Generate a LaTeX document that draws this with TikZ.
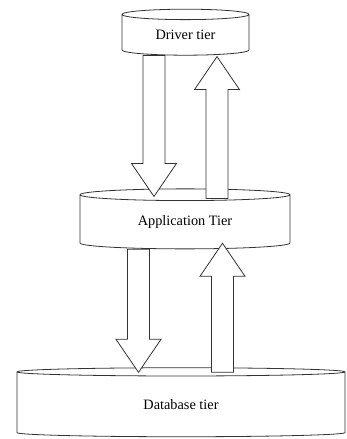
\documentclass[tikz,border=0pt]{standalone}
\usepackage{fontspec}
\setmainfont{Liberation Serif}
\usetikzlibrary{shapes.geometric,calc}

\begin{document}
\begin{tikzpicture}[x=1pt, y=-1pt,
    tier/.style={cylinder, shape border rotate=90, draw=black!80, line width=0.8pt, fill=white,
        inner sep=0pt, font=\fontsize{14.3}{17}\selectfont},
    fat/.style={draw=black!80, line width=0.8pt, fill=white,
        to path={let \p1=(\tikztostart), \p2=(\tikztotarget), \n2={\y2-33pt*sign(\y2-\y1)} in
            (\x1-11pt,\y1) -- (\x1-11pt,\n2) -- (\x1-22.5pt,\n2) -- (\x1,\y2)
            -- (\x1+22.5pt,\n2) -- (\x1+11pt,\n2) -- (\x1+11pt,\y1) -- cycle}}]
    \useasboundingbox (0,0) rectangle (346,439);
    % 三层
    \node[tier, minimum width=127pt, minimum height=46pt, aspect=0.174] (drv) at (185.5,35) {Driver tier};
    \node[tier, minimum width=210pt, minimum height=60pt, aspect=0.124] (app) at (185,222) {Application Tier};
    \node[tier, minimum width=328pt, minimum height=69pt, aspect=0.11] (db) at (181,404.5) {Database tier};
    % 上下两组箭头
    \draw[fat] ($(drv.south)+(-31.5,0)$) to ($(app.north)+(-31.5,8)$);
    \draw[fat] ($(app.north)+(32,10)$) to ($(drv.south)+(32,1)$);
    \draw[fat] ($(app.south)+(-46.5,0)$) to ($(db.north)+(-46.5,5)$);
    \draw[fat] ($(db.north)+(41.5,5)$) to ($(app.south)+(41.5,-6)$);
\end{tikzpicture}
\end{document}
